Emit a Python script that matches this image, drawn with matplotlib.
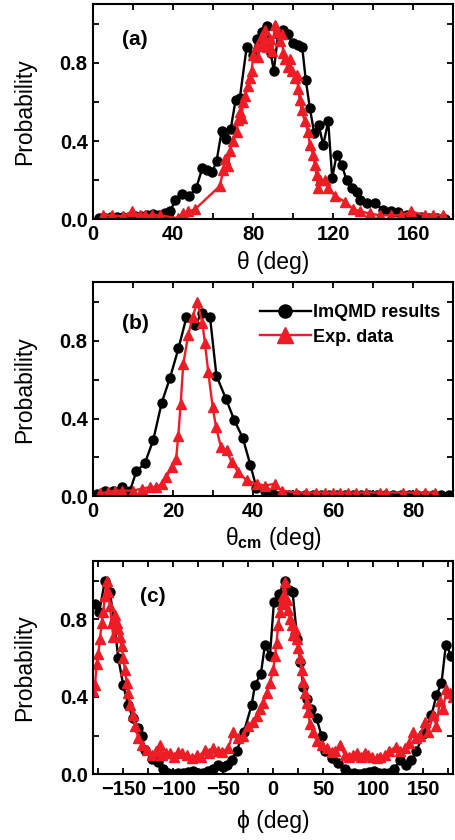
import matplotlib
matplotlib.use("Agg")
import matplotlib.pyplot as plt
from matplotlib.ticker import MultipleLocator

plt.rcParams['font.family'] = ['Liberation Sans', 'DejaVu Sans']
plt.rcParams['mathtext.fontset'] = 'custom'
plt.rcParams['mathtext.rm'] = 'Liberation Sans'
plt.rcParams['mathtext.bf'] = 'Liberation Sans:bold'

# (a) theta distribution
theta_sim = [3, 6, 9, 12, 15, 18, 21, 24, 27, 30, 33, 36, 38.5, 41, 44.5, 48, 51.5, 54.5, 57, 59.5,
             61.7, 64.2, 66.3, 68.7, 71.2, 73.3, 76.7, 79.7, 82, 84.3, 86.7, 88.7, 90.3, 92.5, 95, 97.2,
             99.7, 102.5, 104.5, 106.3, 108.3, 110.5, 112.8, 115, 117.5, 119.5, 121.7, 124.2, 126.7,
             129.5, 131.7, 133.5, 136.7, 140.8, 145, 149, 152.5, 156.7, 160, 164, 168, 172, 176]
prob_theta_sim = [0.005, 0.005, 0.01, 0.01, 0.01, 0.01, 0.015, 0.015, 0.02, 0.025, 0.02, 0.03, 0.04,
                  0.10, 0.13, 0.12, 0.16, 0.26, 0.25, 0.24, 0.30, 0.45, 0.41, 0.46, 0.61, 0.62, 0.88,
                  0.84, 0.92, 0.96, 0.99, 0.85, 0.76, 0.95, 0.97, 0.95, 0.90, 0.89, 0.88, 0.71, 0.57,
                  0.44, 0.48, 0.38, 0.50, 0.21, 0.33, 0.28, 0.20, 0.16, 0.14, 0.10, 0.085, 0.085, 0.045,
                  0.04, 0.035, 0.02, 0.01, 0.01, 0.005, 0.005, 0.0]
theta_exp = [5, 9.2, 15, 19.2, 23.3, 25.8, 29.2, 33.3, 42.5, 45, 47.5, 50.8, 63.3, 65, 65.8, 67.5,
             68.3, 70, 71.7, 72.5, 73.3, 74.2, 75, 75.8, 77.5, 78.3, 79.2, 80, 81.7, 82.5, 84.2, 85,
             85.8, 87, 88.3, 89.5, 90.8, 92, 93.3, 94.2, 95, 95.8, 97.5, 98.3, 99.2, 100.8, 101.7,
             102.5, 103.3, 104.2, 105.8, 107.5, 108.3, 110, 110.8, 111.7, 112.5, 113.3, 115.8, 117.5,
             120.8, 125.8, 130, 133.3, 138.3, 143.3, 149, 154, 159, 166, 170, 175]
prob_theta_exp = [0.02, 0.02, 0.015, 0.04, 0.02, 0.02, 0.02, 0.02, 0.005, 0.03, 0.04, 0.05, 0.17,
                  0.25, 0.31, 0.27, 0.35, 0.40, 0.445, 0.51, 0.55, 0.52, 0.60, 0.63, 0.68, 0.72, 0.76,
                  0.84, 0.885, 0.83, 0.935, 0.89, 0.97, 0.88, 0.92, 0.86, 0.995, 0.96, 0.91, 0.95,
                  0.85, 0.82, 0.78, 0.82, 0.76, 0.72, 0.74, 0.665, 0.61, 0.56, 0.50, 0.445, 0.38,
                  0.33, 0.28, 0.225, 0.16, 0.20, 0.20, 0.16, 0.12, 0.09, 0.053, 0.04, 0.03, 0.02,
                  0.02, 0.02, 0.04, 0.02, 0.02, 0.02]

# (b) theta_cm distribution
thcm_sim = [1, 2.9, 5.0, 7.1, 9.2, 10.8, 12.9, 15.0, 17.1, 19.2, 21.3, 23.3, 25.4, 27.1, 29.2, 30.8,
            33.2, 35.3, 37.4, 39.3, 40.8, 43.0, 45.0, 47, 49, 51, 53, 55, 57, 59, 61, 63, 65, 67, 69,
            71, 73, 75, 77, 79, 81, 83, 85, 87, 89]
prob_thcm_sim = [0.01, 0.03, 0.03, 0.048, 0.03, 0.13, 0.17, 0.29, 0.48, 0.61, 0.76, 0.92, 0.88, 0.94,
                 0.92, 0.62, 0.50, 0.39, 0.30, 0.16, 0.045, 0.027, 0.01, 0.005, 0.005, 0.005, 0.005,
                 0.005, 0.005, 0.005, 0.005, 0.005, 0.005, 0.005, 0.005, 0.005, 0.005, 0.005, 0.005,
                 0.005, 0.005, 0.005, 0.005, 0.005, 0.005]
thcm_exp = [1.7, 3.75, 5.4, 7.1, 10, 12.1, 14.2, 15.8, 17.1, 18.3, 19.6, 20.7, 21.25, 21.85, 22.5,
            23.75, 24.85, 26, 27.3, 27.9, 28.75, 29.85, 30.7, 31.9, 33.35, 34.6, 36.25, 38.4, 40.85,
            42.9, 45.4, 47.1, 50.8, 53.3, 55.8, 57.9, 60, 61.7, 63.75, 65.8, 68.3, 71.7, 73.3, 77.5,
            80.8, 82.9, 85.4]
prob_thcm_exp = [0.017, 0.022, 0.03, 0.03, 0.03, 0.04, 0.048, 0.048, 0.065, 0.10, 0.15, 0.19, 0.31,
                 0.475, 0.68, 0.83, 0.92, 1.0, 0.89, 0.79, 0.64, 0.46, 0.355, 0.256, 0.236, 0.176,
                 0.125, 0.082, 0.065, 0.056, 0.065, 0.03, 0.02, 0.02, 0.02, 0.02, 0.02, 0.02, 0.02,
                 0.02, 0.02, 0.02, 0.02, 0.02, 0.02, 0.02, 0.02]

# (c) phi distribution
phi_sim = [-178.3, -174, -168.3, -163.3, -159, -155, -150, -145, -140, -135.5, -131.7, -128, -121.7,
           -115, -110, -105, -100, -95, -90, -85, -80, -75, -70, -65, -60, -55, -50.5, -46.7, -41.7,
           -36.7, -29.3, -21.7, -18.3, -12.3, -8.3, -3.3, 0.7, 6, 11.7, 15.5, 19.4, 24, 27, 30, 33.3,
           38, 43.3, 48.3, 51.7, 58.3, 65, 71.7, 76, 81, 86, 91, 96, 101, 106, 111, 116, 121, 126.7,
           133.3, 138.3, 143.3, 150, 158.3, 163.3, 168.3, 172.7, 178.3]
prob_phi_sim = [0.88, 0.84, 1.0, 0.94, 0.78, 0.60, 0.46, 0.356, 0.29, 0.24, 0.20, 0.125, 0.082, 0.062,
                0.03, 0.01, 0.005, 0.01, 0.01, 0.015, 0.02, 0.01, 0.01, 0.02, 0.03, 0.048, 0.04, 0.048,
                0.074, 0.12, 0.22, 0.356, 0.46, 0.52, 0.67, 0.61, 0.89, 0.93, 1.0, 0.95, 0.94, 0.70,
                0.58, 0.45, 0.39, 0.34, 0.29, 0.20, 0.12, 0.086, 0.057, 0.03, 0.01, 0.01, 0.005, 0.01,
                0.015, 0.02, 0.01, 0.01, 0.01, 0.03, 0.074, 0.048, 0.074, 0.12, 0.21, 0.305, 0.41,
                0.47, 0.67, 0.61]
phi_exp = [-180, -178.3, -176.6, -175, -173.3, -171.6, -170, -168.3, -166.6, -165, -163.3, -161.6,
           -160, -158.3, -156.6, -155, -153.3, -151.6, -150, -148.3, -146.6, -145, -143.3, -140,
           -138.3, -135, -131.7, -126.7, -121.7, -117, -113.3, -111.6, -107, -103.3, -99, -95, -91,
           -86.7, -81.6, -76.6, -72, -68.3, -64, -60, -55, -51.7, -45, -40, -35, -30, -25, -20, -16.7,
           -13.3, -10, -6.7, -3.3, 0, 1.7, 3.3, 5, 6.7, 8.3, 10, 11.7, 13.3, 15, 16.7, 18.3, 20, 21.7,
           23.3, 25, 26.7, 28.3, 30, 31.7, 33.3, 35, 36.7, 40, 43.3, 48.3, 53.3, 58.3, 62, 66.7, 71.7,
           76, 80, 83.3, 88, 92, 95, 99, 103.3, 107, 111.7, 116, 122.7, 127, 131.7, 136, 140, 143,
           146.7, 151.7, 155, 160, 163.3, 166.7, 170, 173.3, 176.7, 180]
prob_phi_exp = [0.43, 0.46, 0.57, 0.62, 0.70, 0.78, 0.84, 0.92, 1.0, 0.94, 0.87, 0.78, 0.71, 0.82,
                0.78, 0.75, 0.71, 0.66, 0.60, 0.54, 0.47, 0.42, 0.356, 0.305, 0.25, 0.19, 0.15, 0.125,
                0.10, 0.12, 0.15, 0.10, 0.11, 0.11, 0.09, 0.118, 0.11, 0.10, 0.084, 0.10, 0.09, 0.125,
                0.11, 0.135, 0.12, 0.118, 0.135, 0.22, 0.19, 0.20, 0.25, 0.27, 0.30, 0.34, 0.37, 0.42,
                0.47, 0.54, 0.61, 0.68, 0.77, 0.84, 0.88, 0.92, 0.99, 0.90, 0.85, 0.80, 0.77, 0.72,
                0.75, 0.70, 0.65, 0.60, 0.54, 0.475, 0.42, 0.37, 0.32, 0.26, 0.22, 0.175, 0.15, 0.135,
                0.118, 0.12, 0.15, 0.10, 0.09, 0.10, 0.11, 0.09, 0.11, 0.10, 0.09, 0.084, 0.09, 0.10,
                0.12, 0.143, 0.12, 0.135, 0.16, 0.22, 0.19, 0.20, 0.27, 0.22, 0.305, 0.25, 0.38, 0.34,
                0.44, 0.42, 0.40]

fig = plt.figure(figsize=(4.55, 8.4), dpi=100)
ax_a = fig.add_axes([0.205, 0.739, 0.791, 0.256])
ax_b = fig.add_axes([0.205, 0.409, 0.791, 0.255])
ax_c = fig.add_axes([0.205, 0.078, 0.791, 0.254])

panels = [
    (ax_a, theta_sim, prob_theta_sim, theta_exp, prob_theta_exp, (0, 180), 40, 20, 'θ (deg)',
     '(a)', (0.08, 0.81), 5),
    (ax_b, thcm_sim, prob_thcm_sim, thcm_exp, prob_thcm_exp, (0, 90), 20, 10,
     r'θ$_{\mathbf{cm}}$ (deg)', '(b)', (0.08, 0.78), 3),
    (ax_c, phi_sim, prob_phi_sim, phi_exp, prob_phi_exp, (-180, 180), 50, 25, 'ϕ (deg)',
     '(c)', (0.13, 0.81), 8),
]

for ax, xs, ys, xe, ye, xlim, major, minor, xlabel, tag, tagpos, xpad in panels:
    ax.plot(xs, ys, '-o', color='black', lw=1.7, ms=6.5, label='ImQMD results')
    ax.plot(xe, ye, '-^', color='#ee1c25', lw=1.7, ms=7.5, label='Exp. data')
    ax.set_xlim(*xlim)
    ax.set_ylim(0, 1.1)
    ax.xaxis.set_major_locator(MultipleLocator(major))
    ax.xaxis.set_minor_locator(MultipleLocator(minor))
    ax.yaxis.set_major_locator(MultipleLocator(0.4))
    ax.yaxis.set_minor_locator(MultipleLocator(0.2))
    ax.tick_params(which='both', direction='in', top=True, right=True, width=1.3)
    ax.tick_params(which='major', length=4.5, labelsize=14.5, pad=4)
    ax.tick_params(which='minor', length=4.5)
    for lab in ax.get_xticklabels() + ax.get_yticklabels():
        lab.set_fontweight('bold')
    for sp in ax.spines.values():
        sp.set_linewidth(1.5)
    ax.set_xlabel(xlabel, fontsize=16.5, labelpad=xpad)
    ax.set_ylabel('Probability', fontsize=16.5, labelpad=17)
    ax.text(tagpos[0], tagpos[1], tag, transform=ax.transAxes, fontsize=15, fontweight='bold')

ax_c.set_xticks([-150, -100, -50, 0, 50, 100, 150])

leg = ax_b.legend(loc='upper right', bbox_to_anchor=(0.985, 0.93), borderaxespad=0,
                  frameon=False, prop={'weight': 'bold', 'size': 13},
                  handlelength=2.8, markerscale=1.45, labelspacing=0.4, handletextpad=0.15)

fig.savefig('out.png', dpi=100)
